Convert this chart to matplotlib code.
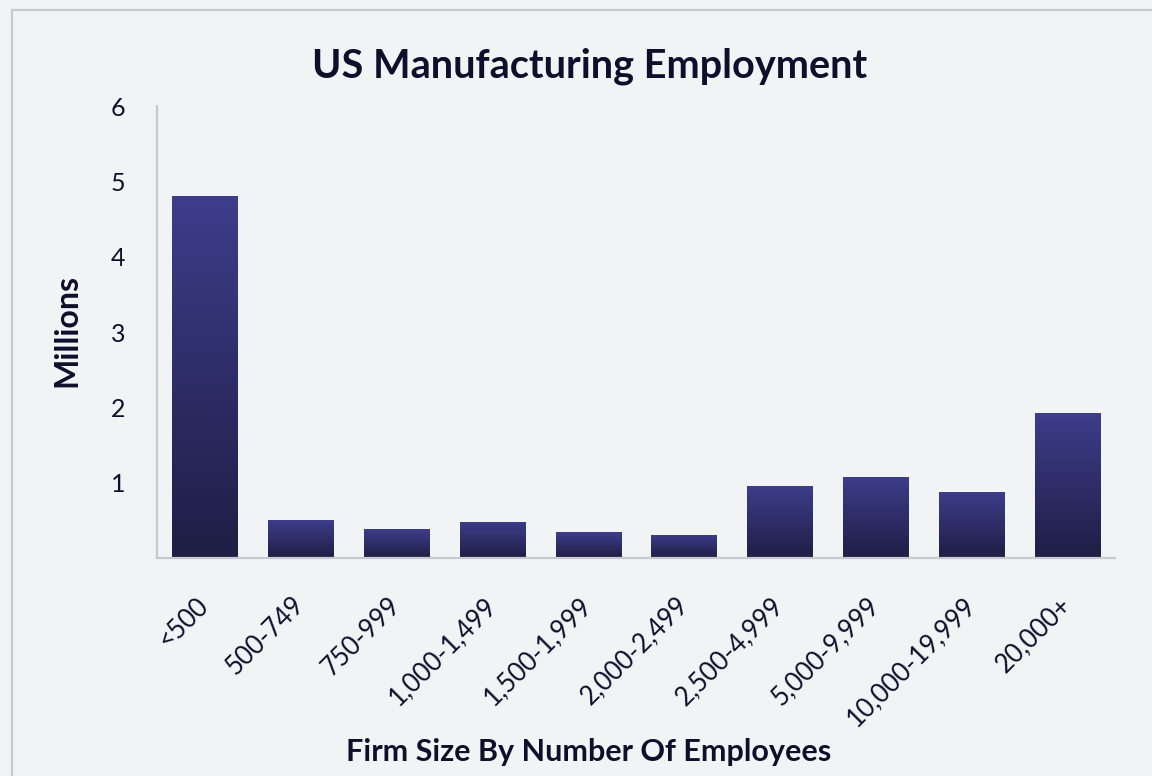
import numpy as np
import matplotlib.pyplot as plt
from matplotlib.colors import LinearSegmentedColormap
from matplotlib.lines import Line2D

# firm size buckets and employment (millions)
categories = ["<500", "500-749", "750-999", "1,000-1,499", "1,500-1,999",
              "2,000-2,499", "2,500-4,999", "5,000-9,999", "10,000-19,999", "20,000+"]
employment = [4.81, 0.50, 0.38, 0.48, 0.34, 0.31, 0.95, 1.08, 0.88, 1.93]
yticks = [1, 2, 3, 4, 5, 6]

bg = "#f2f3f5"
ink = "#100f2b"
line_col = "#c8c9ce"
plt.rcParams['font.family'] = ['Lato', 'DejaVu Sans']

W, H = 1152, 776
fig = plt.figure(figsize=(W / 100, H / 100), dpi=100, facecolor=bg)
ax = fig.add_axes([157 / W, 1 - 558 / H, (1115 - 157) / W, (558 - 106) / H])
ax.set_facecolor(bg)

# outer frame (only top and left visible in the crop)
fig.add_artist(Line2D([12 / W, 1], [1 - 10 / H, 1 - 10 / H], color=line_col, lw=1.6))
fig.add_artist(Line2D([12 / W, 12 / W], [0, 1 - 10 / H], color=line_col, lw=1.6))

x = np.arange(len(categories))
bars = ax.bar(x, employment, width=0.68, color='none', edgecolor='none')

cmap = LinearSegmentedColormap.from_list("bars", ["#1f1e45", "#3d3d8b"])
grad = np.linspace(0, 1, 256).reshape(-1, 1)
for b in bars:
    x0, y0, w, h = b.get_x(), b.get_y(), b.get_width(), b.get_height()
    im = ax.imshow(grad, extent=[x0, x0 + w, y0, y0 + h], origin='lower',
                   cmap=cmap, aspect='auto', zorder=2, interpolation='bilinear')
    im.set_clip_path(b)

ax.set_xlim(-0.5, len(categories) - 0.5)
ax.set_ylim(0, 6)

for s in ['top', 'right']:
    ax.spines[s].set_visible(False)
for s in ['left', 'bottom']:
    ax.spines[s].set_color(line_col)
    ax.spines[s].set_linewidth(1.6)

ax.set_yticks(yticks)
ax.tick_params(axis='y', length=0, pad=23, labelsize=18, labelcolor=ink)
ax.set_xticks(x)
ax.set_xticklabels(categories, rotation=45, ha='right', rotation_mode='anchor',
                   va='center', fontsize=18.5, color=ink)
ax.tick_params(axis='x', length=0, pad=31)

fig.text(590 / W, 1 - 66 / H, "US Manufacturing Employment", ha='center', va='center',
         fontsize=28.5, fontweight='bold', color=ink)
fig.text(589 / W, 1 - 752 / H, "Firm Size By Number Of Employees", ha='center', va='center',
         fontsize=22, fontweight='bold', color=ink)
fig.text(67 / W, 1 - 330 / H, "Millions", ha='center', va='center', rotation=90,
         fontsize=23, fontweight='bold', color=ink)

fig.savefig("out.png", dpi=100, facecolor=bg)
